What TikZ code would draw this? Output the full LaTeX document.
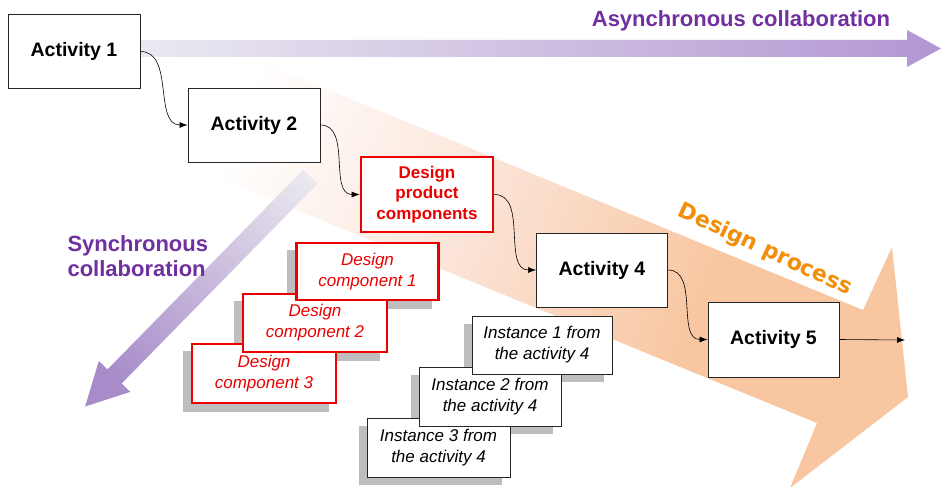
\documentclass[tikz,border=0pt]{standalone}
\usepackage{fontspec}
\setmainfont{Liberation Sans}
\newfontfamily\dpfont{DejaVu Sans}
\usetikzlibrary{arrows.meta}
\definecolor{peach}{RGB}{248,198,160}
\definecolor{peachmid}{RGB}{251,228,216}
\definecolor{asyncL}{RGB}{236,235,242}
\definecolor{asyncR}{RGB}{178,150,210}
\definecolor{syncP}{RGB}{168,140,202}
\definecolor{syncEnd}{RGB}{236,235,240}
\definecolor{txtpurple}{RGB}{112,48,160}
\definecolor{dporange}{RGB}{242,142,10}
\definecolor{boxred}{RGB}{235,0,0}
\definecolor{shadowgray}{RGB}{190,190,190}
\pgfdeclarelayer{back}
\pgfdeclarelayer{shadowlayer}
\pgfsetlayers{back,shadowlayer,main}
\begin{document}
\begin{tikzpicture}[x=1pt,y=-1pt,
  actbox/.style={draw=black!85, line width=0.9pt, fill=white, minimum width=132pt, minimum height=74pt, inner sep=0pt, font=\fontsize{19.5}{22}\selectfont\bfseries},
  redbox/.style={draw=boxred, line width=2.6pt, fill=white, inner sep=0pt, align=center, text=boxred},
  dpcbox/.style={redbox, minimum width=132pt, minimum height=75pt, font=\fontsize{17}{20.5}\selectfont\bfseries},
  compbox/.style={redbox, minimum width=142pt, minimum height=57pt, font=\fontsize{17}{21}\selectfont\itshape},
  instbox/.style={draw=black!85, line width=0.9pt, fill=white, inner sep=0pt, align=center, minimum width=141pt, minimum height=58pt, font=\fontsize{17}{21}\selectfont\itshape},
  flow/.style={-{Latex[length=8pt,width=6pt]}, line width=0.6pt, black},
  shadowbox/.style={fill=shadowgray},
  labelpurple/.style={text=txtpurple, font=\fontsize{22}{25}\selectfont\bfseries},
  ]
\useasboundingbox (0,0) rectangle (942,487);

% ---------- background arrows ----------
\begin{pgfonlayer}{back}
  % design process (big orange arrow)
  \begin{scope}
    \clip (-30,-58) -- (863,310) -- (892,247) -- (908,397) -- (790,488) -- (817,423) -- (-30,76) -- cycle;
    \begin{scope}[transform canvas={rotate around={-22.3:(840,366.5)}}]
      \shade[left color=white, right color=peachmid] (190,-40) rectangle (442,780);
      \shade[left color=peachmid, right color=peach] (440,-40) rectangle (692,780);
      \fill[peach] (690,-40) rectangle (1300,780);
    \end{scope}
  \end{scope}
  % asynchronous collaboration arrow
  \shade[left color=asyncL, right color=asyncR]
    (120,40) -- (907,40) -- (907,30) -- (941,48.5) -- (907,67) -- (907,57) -- (120,57) -- cycle;
  % synchronous collaboration arrow
  \begin{scope}
    \clip (85.1,406.5) -- (130.2,391.9) -- (121.6,383.5) -- (317.6,183.6) -- (303.4,169.6) -- (107.4,369.5) -- (98.8,361.1) -- cycle;
    \begin{scope}[transform canvas={rotate around={45.6:(114.5,376.5)}}]
      \fill[syncP] (54.5,336.5) rectangle (116.5,416.5);
      \shade[left color=syncP, right color=syncEnd] (114.5,336.5) rectangle (399.5,416.5);
    \end{scope}
  \end{scope}
\end{pgfonlayer}

% ---------- labels ----------
\node[labelpurple] (async) at (741,21) {Asynchronous collaboration};
\node[labelpurple, align=left, anchor=west] (sync) at (64,256) {Synchronous\\collaboration};
\node[text=dporange, font=\dpfont\fontsize{22}{24}\selectfont\bfseries, rotate=-25] (dp) at (765,250) {Design process};

% ---------- main activities ----------
\node[actbox] (a1) at (74,51.5) {Activity 1};
\node[actbox] (a2) at (254,125) {Activity 2};
\node[dpcbox] (dpc) at (427,194.5) {Design\\product\\components};
\node[actbox, minimum width=131pt] (a4) at (602,270) {Activity 4};
\node[actbox, minimum width=131pt, minimum height=75pt] (a5) at (773.5,339.5) {Activity 5};
\coordinate (end) at (905,340);

% ---------- component boxes (bottom to top) ----------
\node[compbox, minimum width=144pt, minimum height=59pt] (dc3) at (264,373.5) {Design\\component 3};
\node[compbox, minimum width=144pt, minimum height=58pt] (dc2) at (315,323) {Design\\component 2};
\node[compbox] (dc1) at (367.5,271.5) {Design\\component 1};

% ---------- instance boxes (bottom to top) ----------
\node[instbox, minimum width=143pt, minimum height=59pt] (i3) at (438.5,447.5) {Instance 3 from\\the activity 4};
\node[instbox, minimum width=142pt, minimum height=59pt] (i2) at (490,396.5) {Instance 2 from\\the activity 4};
\node[instbox, minimum width=140pt] (i1) at (542,345) {Instance 1 from\\the activity 4};

% ---------- shadows ----------
\begin{pgfonlayer}{shadowlayer}
  \foreach \n in {dc1,dc2,dc3,i1,i2,i3}{
    \fill[shadowbox] ([shift={(-8,8)}]\n.north west) rectangle ([shift={(-8,8)}]\n.south east);
  }
\end{pgfonlayer}

% ---------- connectors ----------
\draw[flow] (a1.east) to[out=0,in=180] (a2.west);
\draw[flow] (a2.east) to[out=0,in=180] (dpc.west);
\draw[flow] (dpc.east) to[out=0,in=180] (a4.west);
\draw[flow] (a4.east) to[out=0,in=180] (a5.west);
\draw[flow] (a5.east) -- (end);
\end{tikzpicture}
\end{document}
